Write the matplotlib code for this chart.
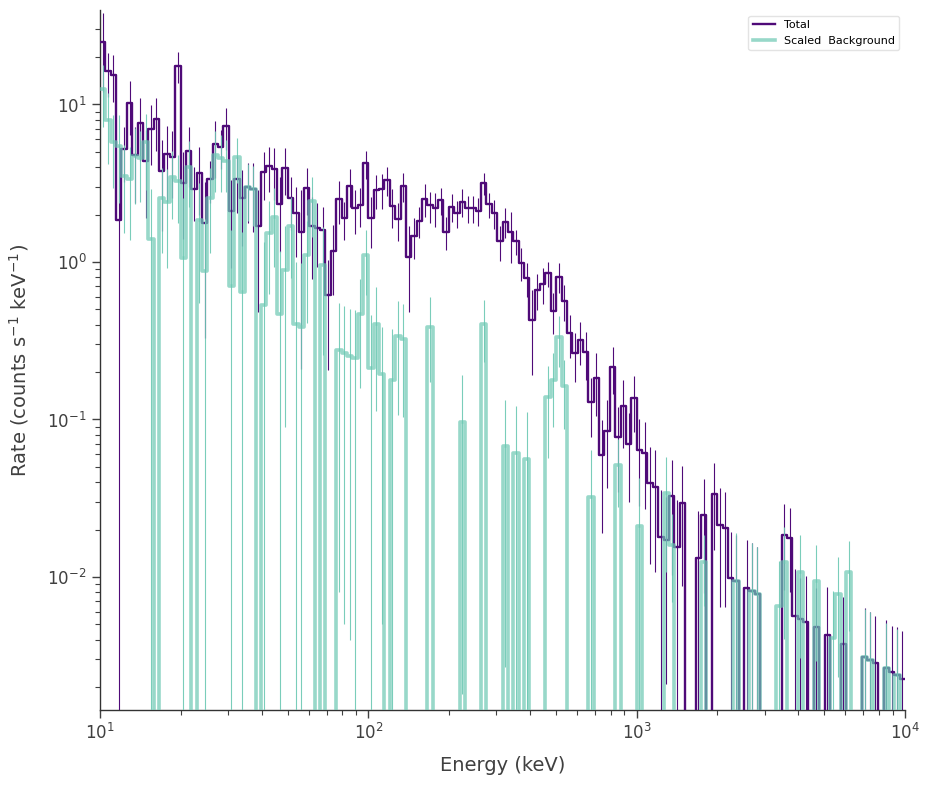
import numpy as np
import matplotlib
matplotlib.use("Agg")
import matplotlib.pyplot as plt

# Channel grid: 150 logarithmic energy bins between 10 keV and 10 MeV
edges = np.geomspace(10.0, 1.0e4, 151)

# Total rate (counts s^-1 keV^-1) per bin
total = [
    25.0, 16.2, 15.5, 1.85, 5.22, 10.2, 4.78, 7.66, 4.40, 7.02,
    8.05, 3.78, 4.85, 4.66, 17.6, 3.19, 5.09, 2.91, 3.69, 1.78,
    3.37, 5.61, 5.40, 7.33, 2.11, 3.35, 2.56, 3.01, 2.91, 1.68,
    3.74, 4.09, 3.88, 2.32, 3.97, 2.54, 2.04, 1.54, 2.96, 1.68,
    1.65, 1.60, 0.617, 1.17, 2.51, 1.89, 3.05, 2.19, 2.30, 4.23,
    1.91, 2.87, 2.89, 3.32, 2.27, 1.87, 3.05, 1.08, 1.47, 1.83,
    2.52, 2.29, 2.21, 2.46, 1.56, 2.24, 2.04, 2.41, 2.21, 2.21,
    2.12, 3.16, 2.32, 2.05, 1.35, 1.80, 1.54, 1.35, 0.99, 0.788,
    0.428, 0.667, 0.725, 0.848, 0.490, 0.807, 0.567, 0.353, 0.263, 0.320,
    0.269, 0.130, 0.184, 0.0591, 0.0848, 0.216, 0.0778, 0.122, 0.0699, 0.136,
    0.0643, 0.0615, 0.0393, 0.0374, 0.0180, 0.0172, 0.0328, 0.0156, 0.0297, 0.0,
    0.0, 0.01315, 0.0249, 0.0, 0.0338, 0.0215, 0.0206, 0.0099, 0.00943, 0.0,
    0.00855, 0.00815, 0.00780, 0.0, 0.0, 0.0, 0.0, 0.0186, 0.0178, 0.00565,
    0.00539, 0.00516, 0.0, 0.00478, 0.0, 0.00430, 0.0, 0.0, 0.00377, 0.0,
    0.0, 0.0, 0.00312, 0.00297, 0.00286, 0.0, 0.00263, 0.00250, 0.00239, 0.00225,
]
total_err = [
    13.0, 5.1, 5.1, 3.7, 2.0, 3.8, 2.4, 3.3, 2.5, 2.9,
    3.0, 2.2, 2.4, 2.1, 4.0, 1.8, 2.1, 1.1, 1.7, 1.45,
    1.0, 2.2, 1.5, 2.2, 1.2, 1.3, 1.3, 1.25, 1.35, 1.2,
    1.27, 1.3, 1.4, 1.16, 1.3, 0.94, 0.97, 1.33, 0.98, 0.9,
    0.72, 0.64, 0.41, 0.55, 0.77, 0.52, 0.83, 0.68, 0.64, 0.86,
    0.69, 0.70, 0.73, 0.71, 0.62, 0.51, 0.64, 0.60, 0.42, 0.41,
    0.59, 0.51, 0.54, 0.48, 0.36, 0.45, 0.40, 0.48, 0.43, 0.43,
    0.42, 0.50, 0.41, 0.43, 0.33, 0.39, 0.55, 0.25, 0.23, 0.19,
    0.236, 0.168, 0.187, 0.156, 0.143, 0.174, 0.147, 0.108, 0.09, 0.098,
    0.092, 0.053, 0.079, 0.040, 0.048, 0.071, 0.043, 0.056, 0.040, 0.053,
    0.036, 0.0345, 0.0273, 0.0266, 0.0177, 0.0151, 0.0225, 0.0152, 0.021, 0.0,
    0.0, 0.0129, 0.017, 0.0, 0.0189, 0.0151, 0.0142, 0.0095, 0.0091, 0.0,
    0.0086, 0.0082, 0.0076, 0.0, 0.0, 0.0, 0.0, 0.0103, 0.0098, 0.0056,
    0.0045, 0.0050, 0.0, 0.0037, 0.0, 0.0043, 0.0, 0.0, 0.0037, 0.0,
    0.0, 0.0, 0.0032, 0.0030, 0.0028, 0.0, 0.0027, 0.0024, 0.0024, 0.0023,
]

# Scaled background rate per bin
bkg = [
    12.5, 7.97, 5.75, 5.47, 3.53, 3.37, 4.73, 4.59, 5.75, 1.40,
    0.0, 2.54, 2.41, 3.48, 3.28, 1.055, 4.03, 0.0, 1.85, 0.881,
    2.54, 4.78, 4.59, 4.38, 0.704, 4.66, 0.648, 3.01, 2.89, 0.0,
    0.533, 1.53, 1.93, 0.468, 0.890, 1.69, 0.404, 0.387, 1.11, 2.44,
    0.0, 0.957, 0.0, 0.0, 0.278, 0.265, 0.254, 0.245, 0.468, 1.11,
    0.211, 0.404, 0.195, 0.0, 0.178, 0.3375, 0.3235, 0.0, 0.0, 0.0,
    0.0, 0.387, 0.0, 0.0, 0.0, 0.0, 0.0, 0.0968, 0.0, 0.0,
    0.0, 0.402, 0.0, 0.0, 0.0, 0.0677, 0.0, 0.061, 0.0, 0.0559,
    0.0, 0.0, 0.0, 0.138, 0.1773, 0.3355, 0.1624, 0.0, 0.0, 0.0,
    0.0, 0.0323, 0.0, 0.0, 0.0, 0.0, 0.0514, 0.0, 0.0, 0.0,
    0.0212, 0.0, 0.0, 0.0, 0.0, 0.0341, 0.01596, 0.0, 0.0, 0.0,
    0.0, 0.0, 0.0125, 0.0, 0.0, 0.0, 0.0, 0.0, 0.00943, 0.0,
    0.0, 0.00815, 0.00780, 0.0, 0.0, 0.0, 0.00654, 0.01245, 0.0, 0.0,
    0.01076, 0.0, 0.0, 0.00943, 0.0, 0.0, 0.00408, 0.0078, 0.0, 0.01072,
    0.0, 0.0, 0.00312, 0.00297, 0.0, 0.0, 0.00263, 0.0, 0.00239, 0.0,
]
bkg_err = [
    5.3, 3.8, 2.8, 3.1, 2.0, 2.0, 2.4, 2.2, 2.9, 1.5,
    0.0, 1.4, 1.5, 1.6, 1.5, 1.5, 1.8, 0.0, 1.3, 1.0,
    1.4, 2.0, 1.8, 1.6, 0.9, 1.5, 0.9, 1.2, 1.2, 0.0,
    0.8, 0.9, 1.0, 0.7, 0.8, 0.9, 0.6, 0.6, 0.7, 1.0,
    0.0, 0.7, 0.0, 0.0, 0.27, 0.26, 0.25, 0.25, 0.31, 0.49,
    0.25, 0.29, 0.19, 0.0, 0.2, 0.23, 0.22, 0.0, 0.0, 0.0,
    0.0, 0.215, 0.0, 0.0, 0.0, 0.0, 0.0, 0.095, 0.0, 0.0,
    0.0, 0.17, 0.0, 0.0, 0.0, 0.065, 0.0, 0.061, 0.0, 0.055,
    0.0, 0.0, 0.0, 0.081, 0.088, 0.12, 0.076, 0.0, 0.0, 0.0,
    0.0, 0.032, 0.0, 0.0, 0.0, 0.0, 0.0235, 0.0, 0.0, 0.0,
    0.021, 0.0, 0.0, 0.0, 0.0, 0.0234, 0.009, 0.0, 0.0, 0.0,
    0.0, 0.0, 0.006, 0.0, 0.0, 0.0, 0.0, 0.0, 0.0095, 0.0,
    0.0, 0.0082, 0.0076, 0.0, 0.0, 0.0, 0.006, 0.0084, 0.0, 0.0,
    0.0077, 0.0, 0.0, 0.0065, 0.0, 0.0, 0.0041, 0.0055, 0.0, 0.0062,
    0.0, 0.0, 0.0031, 0.003, 0.0, 0.0, 0.0025, 0.0, 0.0023, 0.0,
]

labels = ["Total", "Scaled  Background"]
purple = "#4f0a78"
teal = "#6cc8b3"

total = np.array(total)
total_err = np.array(total_err)
bkg = np.array(bkg)
bkg_err = np.array(bkg_err)
centers = np.sqrt(edges[:-1] * edges[1:])

fig = plt.figure(figsize=(9.3, 7.86), dpi=100)
ax = fig.add_axes([100 / 930, 76 / 786, 805 / 930, 700 / 786])
ax.set_xscale("log")
ax.set_yscale("log")

ax.step(edges, np.append(total, total[-1]), where="post", color=purple,
        lw=1.7, zorder=3, label=labels[0])
ax.errorbar(centers, total, yerr=total_err, fmt="none", ecolor=purple,
            elinewidth=0.8, zorder=3)
ax.step(edges, np.append(bkg, bkg[-1]), where="post", color=teal,
        lw=2.6, alpha=0.7, zorder=4, label=labels[1])
ax.errorbar(centers, bkg, yerr=bkg_err, fmt="none", ecolor=teal,
            elinewidth=0.8, alpha=0.9, zorder=4)

ax.set_xlim(10, 1e4)
ax.set_ylim(1.43e-3, 39.8)

for s in ["top", "right"]:
    ax.spines[s].set_visible(False)
for s in ["left", "bottom"]:
    ax.spines[s].set_color("0.2")
    ax.spines[s].set_linewidth(1.0)

ax.tick_params(which="major", direction="out", length=6, width=1.0,
               labelsize=12, colors="0.25")
ax.tick_params(which="minor", direction="out", length=3.5, width=0.8,
               colors="0.25")

ax.set_xlabel("Energy (keV)", fontsize=14, color="0.25", labelpad=9)
ax.set_ylabel("Rate (counts s$^{-1}$ keV$^{-1}$)", fontsize=14, color="0.25",
              labelpad=12)

leg = ax.legend(loc="upper right", fontsize=8, frameon=True, framealpha=0.9,
                edgecolor="0.88", fancybox=True)

fig.savefig("out.png", dpi=100)
